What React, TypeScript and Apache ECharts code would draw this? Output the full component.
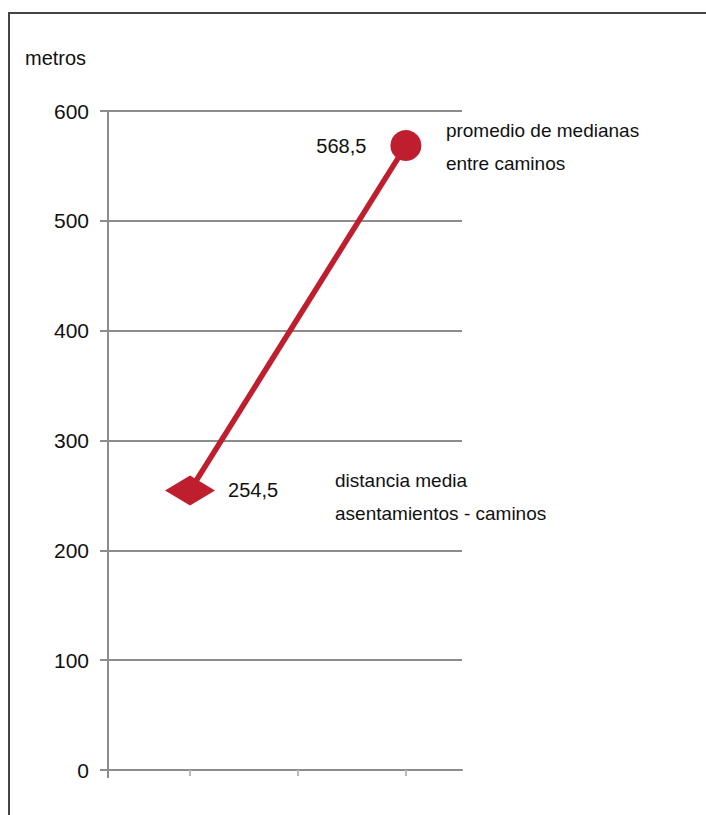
import React, { useEffect, useRef } from "react";
import * as echarts from "echarts";

const yTicks = [0, 100, 200, 300, 400, 500, 600];
const pointX = [0, 2];
const pointValues = [254.5, 568.5];
const valueLabels = ["254,5", "568,5"];
const pointNotes = [
  ["distancia media", "asentamientos - caminos"],
  ["promedio de medianas", "entre caminos"],
];
const xTickValues = [0, 1, 2];
const yAxisName = "metros";

const RED = "#bf1e2e";
const GRID = "#8c8c8c";
const FONT = "'Liberation Sans', Arial, sans-serif";

export default function App() {
  const ref = useRef<HTMLDivElement>(null);
  useEffect(() => {
    if (!ref.current) return;
    const chart = echarts.init(ref.current, null, { renderer: "svg" });
    const data = pointX.map((x, i) => [x, pointValues[i]]);
    chart.setOption({
      animation: false,
      backgroundColor: "#ffffff",
      grid: { left: 108, right: 244, top: 111, bottom: 45, containLabel: false },
      xAxis: {
        type: "value",
        min: -0.76,
        max: 2.52,
        axisLine: { show: true, onZero: false, lineStyle: { color: GRID, width: 2 } },
        axisTick: {
          show: true,
          customValues: xTickValues,
          length: 6,
          lineStyle: { color: "#b8b8b8", width: 2 },
        },
        axisLabel: { show: false },
        splitLine: { show: false },
      },
      yAxis: {
        type: "value",
        min: yTicks[0],
        max: yTicks[yTicks.length - 1],
        interval: 100,
        axisLine: { show: true, onZero: false, lineStyle: { color: GRID, width: 2 } },
        axisTick: { show: true, length: 8, lineStyle: { color: GRID, width: 2 } },
        axisLabel: {
          margin: 19,
          color: "#111",
          fontFamily: FONT,
          fontSize: 21,
        },
        splitLine: { show: true, lineStyle: { color: GRID, width: 2 } },
      },
      graphic: [
        {
          type: "rect",
          shape: { x: 9, y: 13, width: 720, height: 820 },
          style: { fill: "none", stroke: "#444", lineWidth: 2 },
          silent: true,
        },
        {
          type: "line",
          shape: { x1: 108, y1: 770, x2: 108, y2: 778 },
          style: { stroke: GRID, lineWidth: 2 },
        },
        {
          type: "text",
          x: 25,
          y: 58,
          style: {
            text: yAxisName,
            fontFamily: FONT,
            fontSize: 20,
            fill: "#111",
            verticalAlign: "middle",
          },
        },
      ],
      series: [
        {
          type: "line",
          data: data.map((d, i) => ({
            value: d,
            symbol: i === 0 ? "diamond" : "circle",
            symbolSize: i === 0 ? [50, 30] : 31,
            label: {
              show: true,
              position: i === 0 ? "right" : "left",
              distance: i === 0 ? 13 : 24,
              formatter: valueLabels[i],
              fontFamily: FONT,
              fontSize: 20,
              color: "#111",
            },
          })),
          lineStyle: { color: RED, width: 5.5 },
          itemStyle: { color: RED },
          z: 5,
        },
        {
          type: "scatter",
          data: data.map((d, i) => ({
            value: d,
            label: {
              show: true,
              position: "right",
              distance: i === 0 ? 145 : 40,
              offset: [0, i === 0 ? 7 : 1],
              formatter: pointNotes[i].join("\n"),
              fontFamily: FONT,
              fontSize: 19,
              lineHeight: 33,
              color: "#111111",
              opacity: 1,
              align: "left",
            },
          })),
          symbolSize: 0,
          itemStyle: { color: "#ffffff" },
          silent: true,
          z: 4,
        },
      ],
    });
    return () => chart.dispose();
  }, []);
  return (
    <div
      ref={ref}
      style={{ position: "fixed", left: 0, top: 0, width: 706, height: 815 }}
    />
  );
}
